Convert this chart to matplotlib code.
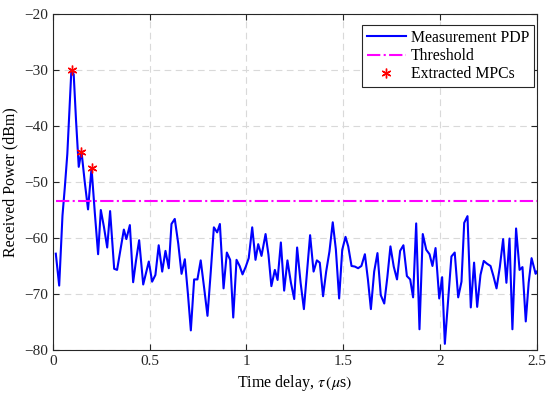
import numpy as np
import matplotlib
matplotlib.use('Agg')
import matplotlib.pyplot as plt

plt.rcParams['font.family'] = ['Liberation Serif', 'DejaVu Serif']
plt.rcParams['mathtext.fontset'] = 'stix'

# PDP vertices: delay (us), power (dBm)
tau = [0.0155, 0.033, 0.050, 0.062, 0.075, 0.085, 0.096, 0.108, 0.120, 0.134, 0.148,
       0.165, 0.182, 0.200, 0.217, 0.234, 0.248, 0.264, 0.281, 0.296, 0.317, 0.332,
       0.350, 0.367, 0.380, 0.398, 0.415, 0.430, 0.446, 0.467, 0.496, 0.513, 0.530,
       0.547, 0.565, 0.582, 0.599, 0.613, 0.630, 0.648, 0.665, 0.682, 0.698, 0.713,
       0.730, 0.747, 0.764, 0.782, 0.799, 0.816, 0.832, 0.849, 0.863, 0.882, 0.899,
       0.916, 0.932, 0.949, 0.965, 0.980, 0.997, 1.012, 1.030, 1.047, 1.061, 1.078,
       1.099, 1.114, 1.129, 1.147, 1.161, 1.178, 1.195, 1.212, 1.230, 1.247, 1.262,
       1.280, 1.297, 1.313, 1.329, 1.347, 1.364, 1.379, 1.396, 1.412, 1.429, 1.446,
       1.462, 1.479, 1.495, 1.512, 1.526, 1.543, 1.560, 1.577, 1.594, 1.612, 1.628,
       1.643, 1.660, 1.677, 1.694, 1.712, 1.728, 1.744, 1.761, 1.778, 1.794, 1.811,
       1.829, 1.846, 1.861, 1.877, 1.894, 1.911, 1.929, 1.946, 1.961, 1.977, 1.996,
       2.011, 2.025, 2.042, 2.059, 2.076, 2.094, 2.111, 2.125, 2.142, 2.159, 2.176,
       2.192, 2.209, 2.226, 2.243, 2.261, 2.276, 2.292, 2.309, 2.326, 2.343, 2.359,
       2.374, 2.393, 2.411, 2.426, 2.443, 2.458, 2.473, 2.494, 2.500]
power = [-62.8, -68.5, -56.0, -51.0, -45.0, -38.0, -30.0, -30.8, -39.0, -47.3, -44.5,
         -50.0, -54.9, -47.5, -55.5, -62.9, -55.0, -58.0, -61.7, -55.2, -65.5, -65.7,
         -62.0, -58.5, -60.2, -57.7, -67.9, -64.0, -60.4, -68.3, -64.2, -67.8, -66.6,
         -61.3, -66.0, -62.3, -65.4, -57.5, -56.6, -61.0, -66.4, -63.8, -70.0, -76.5,
         -67.4, -67.4, -64.0, -69.0, -73.9, -66.0, -58.1, -59.0, -57.5, -69.0, -62.6,
         -63.9, -74.2, -63.9, -65.0, -66.5, -65.1, -63.6, -58.1, -63.9, -61.1, -63.2,
         -59.3, -63.0, -68.6, -65.7, -67.5, -60.8, -69.4, -64.0, -68.0, -70.9, -61.7,
         -68.0, -72.7, -66.0, -59.5, -66.0, -64.0, -64.4, -70.4, -66.0, -62.4, -57.2,
         -62.0, -70.8, -62.1, -59.8, -61.5, -65.0, -65.1, -65.4, -65.0, -62.9, -67.5,
         -72.7, -66.0, -62.7, -70.2, -71.7, -67.0, -61.5, -65.1, -67.4, -62.3, -61.3,
         -66.8, -67.4, -70.6, -57.4, -76.3, -59.3, -62.1, -62.9, -65.0, -61.8, -70.8,
         -67.0, -78.9, -71.0, -63.3, -62.6, -70.6, -67.8, -57.3, -56.1, -72.4, -64.4,
         -72.3, -66.6, -64.1, -64.6, -65.0, -66.8, -69.0, -65.2, -60.2, -68.0, -60.1,
         -76.3, -58.3, -65.7, -65.2, -74.9, -68.0, -63.6, -66.4, -66.0]

# extracted MPCs
mpc_tau = [0.100, 0.148, 0.200]
mpc_power = [-30.0, -44.6, -47.5]

threshold = -53.4
thr_tau = [0.0155, 2.5]

fig = plt.figure(figsize=(5.5, 3.98), dpi=100)
ax = fig.add_axes([0.096, 0.1206, 0.88, 0.8444])

ax.plot(tau, power, color='#0000ff', lw=1.5, label='Measurement PDP')
ax.plot(thr_tau, [threshold, threshold], color='#ff00ff', lw=1.5, ls='-.',
        label='Threshold')
ax.plot(mpc_tau, mpc_power, ls='none', marker=(6, 2, 0), color='red', ms=7,
        mew=1.0, label='Extracted MPCs')

ax.set_xlim(0, 2.5)
ax.set_ylim(-80, -20)
ax.set_xticks([0, 0.5, 1, 1.5, 2, 2.5])
ax.set_xticklabels(['0', '0.5', '1', '1.5', '2', '2.5'])
ax.set_yticks(np.arange(-80, -19, 10))
ax.grid(True, ls=(0, (6, 4)), color='#d9d9d9', lw=0.8)
ax.tick_params(direction='in', labelsize=11, colors='#262626', length=4,
               top=True, right=True)
for s in ax.spines.values():
    s.set_color('#262626')
    s.set_linewidth(0.8)

ax.set_xlabel(r'Time delay, $\tau\,(\mu$s$)$', fontsize=11.5)
ax.set_ylabel('Received Power (dBm)', fontsize=11.5)

leg = ax.legend(loc='upper right', bbox_to_anchor=(0.994, 0.967), borderaxespad=0,
                fontsize=11.3, fancybox=False, framealpha=1, edgecolor='#262626',
                handlelength=2.5, handletextpad=0.3, borderpad=0.3,
                labelspacing=0.15)
leg.get_frame().set_linewidth(0.8)

fig.savefig('out.png', dpi=100)
